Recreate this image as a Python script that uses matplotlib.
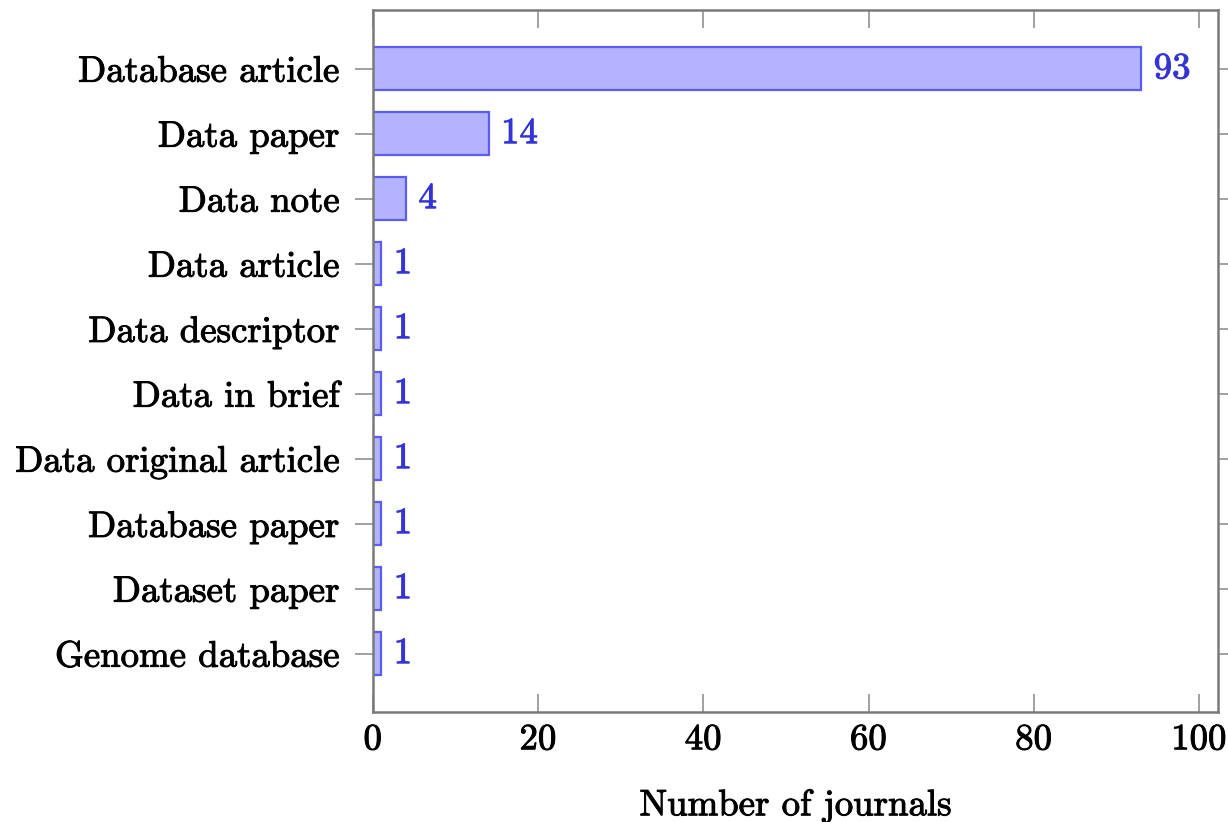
import matplotlib
matplotlib.use('Agg')
import matplotlib.pyplot as plt
import matplotlib.patheffects as pe

categories = ['Database article', 'Data paper', 'Data note', 'Data article',
              'Data descriptor', 'Data in brief', 'Data original article',
              'Database paper', 'Dataset paper', 'Genome database']
counts = [93, 14, 4, 1, 1, 1, 1, 1, 1, 1]
xticks = [0, 20, 40, 60, 80, 100]

plt.rcParams['font.family'] = ['cmr10', 'DejaVu Serif']
plt.rcParams['axes.formatter.use_mathtext'] = True

FS = 26.5
# slight stroke to mimic the heavier look of the scanned reference
thick = [pe.withStroke(linewidth=0.7, foreground='black')]

fig = plt.figure(figsize=(12.28, 8.22), dpi=100)
ax = fig.add_axes([0.3037, 0.1338, 0.9919 - 0.3037, 0.9878 - 0.1338])

ypos = list(range(len(categories)))
bars = ax.barh(ypos, counts, height=0.66, color='#b3b3ff',
               edgecolor='#5c5cf5', linewidth=1.6)

# value labels at bar ends
for y, v in zip(ypos, counts):
    ax.annotate(str(v), (v, y), xytext=(9, 0), textcoords='offset points',
                ha='left', va='center', fontsize=FS, color='#3333d6',
                path_effects=[pe.withStroke(linewidth=0.7, foreground='#3333d6')])

ax.set_xlim(0, 102.3)
ax.set_ylim(9.9, -0.9)
ax.set_yticks(ypos)
ax.set_yticklabels(categories)
ax.set_xticks(xticks)
ax.set_xlabel('Number of journals', fontsize=FS, labelpad=23,
              path_effects=thick)

for s in ax.spines.values():
    s.set_color('#7a7a7a')
    s.set_linewidth(1.8)

ax.tick_params(axis='x', direction='in', top=True, bottom=True, length=13,
               width=1.3, color='#9a9a9a', labelsize=FS, pad=8)
ax.tick_params(axis='y', direction='out', left=True, right=True, length=13,
               width=1.3, color='#9a9a9a', labelsize=FS, pad=11)
for lbl in ax.get_xticklabels() + ax.get_yticklabels():
    lbl.set_path_effects(thick)

fig.savefig('out.png', dpi=100)
